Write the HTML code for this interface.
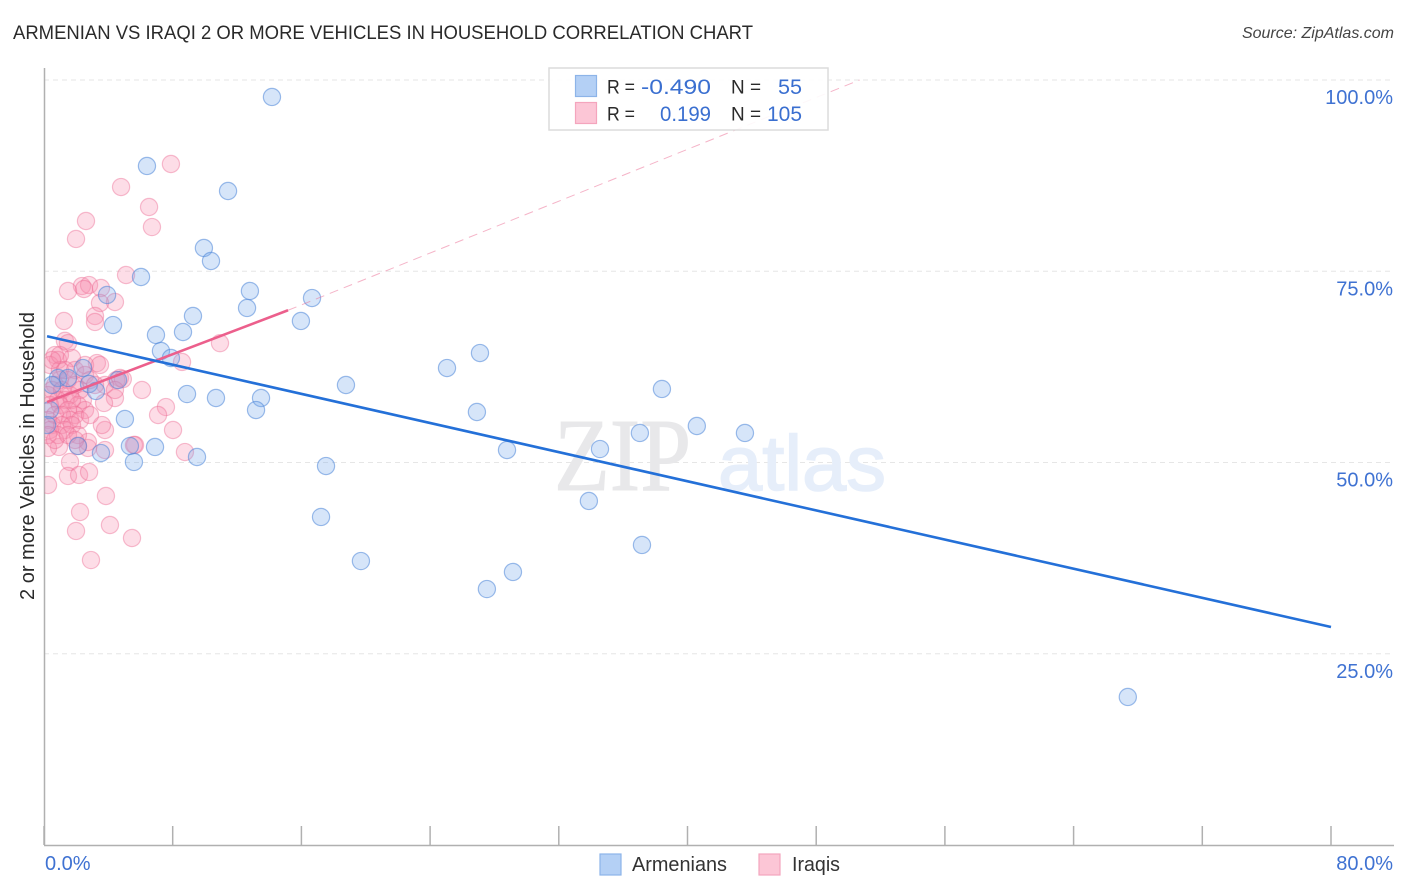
<!DOCTYPE html>
<html lang="en">
<head>
<meta charset="utf-8">
<title>Armenian vs Iraqi 2 or more Vehicles in Household Correlation Chart</title>
<style>
html,body{margin:0;padding:0;background:#fff;}
body{width:1406px;height:892px;overflow:hidden;}
svg{display:block;font-family:"Liberation Sans",sans-serif;}
</style>
</head>
<body>
<svg id="chart" width="1406" height="892" viewBox="0 0 1406 892" xmlns="http://www.w3.org/2000/svg">
  <defs>
    <clipPath id="plot-clip"><rect x="44.5" y="68" width="1350" height="777"/></clipPath>
  </defs>
  <rect width="1406" height="892" fill="#fff"/>
  <text x="13" y="39" font-size="19.6" fill="#2a2a2a" textLength="740" lengthAdjust="spacingAndGlyphs">ARMENIAN VS IRAQI 2 OR MORE VEHICLES IN HOUSEHOLD CORRELATION CHART</text>
  <text x="1394" y="38" font-size="16" font-style="italic" fill="#444" text-anchor="end">Source: ZipAtlas.com</text>

  <g id="grid"></g>
  <g>
    <text x="554" y="490" font-family="Liberation Serif, serif" font-size="104" fill="#e8e8ea" stroke="#e8e8ea" stroke-width="1" textLength="137" lengthAdjust="spacingAndGlyphs">ZIP</text>
    <text x="718" y="490" font-size="78" fill="#e6eefa" stroke="#e6eefa" stroke-width="1.5" textLength="168" lengthAdjust="spacingAndGlyphs">atlas</text>
  </g>
  <g id="axes"></g>
  <g id="marks" clip-path="url(#plot-clip)"></g>
  <g id="trends"></g>
  <g id="labels"></g>

  <text transform="translate(34,456) rotate(-90)" font-size="20" fill="#2a2a2a" text-anchor="middle">2 or more Vehicles in Household</text>

  <g>
    <rect x="549" y="68" width="279" height="62" fill="#fff" fill-opacity="0.9" stroke="#dcdcdc" stroke-width="1.5"/>
    <rect x="575.5" y="75.5" width="21" height="21" fill="#b4d0f5" stroke="#8db4e8" stroke-width="1.2"/>
    <rect x="575.5" y="102.5" width="21" height="21" fill="#fcc6d6" stroke="#f4a5bd" stroke-width="1.2"/>
    <g font-size="19.5" fill="#2a2a2a">
      <text x="607" y="93.5" textLength="28" lengthAdjust="spacingAndGlyphs">R =</text>
      <text x="607" y="120.5" textLength="28" lengthAdjust="spacingAndGlyphs">R =</text>
      <text x="731" y="93.5" textLength="30" lengthAdjust="spacingAndGlyphs">N =</text>
      <text x="731" y="120.5" textLength="30" lengthAdjust="spacingAndGlyphs">N =</text>
    </g>
    <g font-size="21.5" fill="#3a6fd0">
      <text x="641" y="94" textLength="70" lengthAdjust="spacingAndGlyphs">-0.490</text>
      <text x="660" y="121" textLength="51" lengthAdjust="spacingAndGlyphs">0.199</text>
      <text x="778" y="94" textLength="24" lengthAdjust="spacingAndGlyphs">55</text>
      <text x="767" y="121" textLength="35" lengthAdjust="spacingAndGlyphs">105</text>
    </g>
  </g>

  <g>
    <rect x="600" y="854" width="21" height="21" fill="#b4d0f5" stroke="#8db4e8" stroke-width="1.2"/>
    <text x="632" y="871" font-size="20" fill="#333" textLength="95" lengthAdjust="spacingAndGlyphs">Armenians</text>
    <rect x="759" y="854" width="21" height="21" fill="#fcc6d6" stroke="#f4a5bd" stroke-width="1.2"/>
    <text x="792" y="871" font-size="20" fill="#333" textLength="48" lengthAdjust="spacingAndGlyphs">Iraqis</text>
  </g>
</svg>
<script>
var armeniansX = [14.17,6.40,11.44,9.94,10.38,6.03,12.80,16.66,3.92,12.62,9.26,15.97,4.29,6.96,8.64,7.27,7.89,27.10,25.05,18.77,38.41,4.60,2.80,3.23,8.89,10.69,13.49,13.18,26.91,5.03,40.58,37.04,43.57,34.56,28.78,5.34,6.90,2.11,3.54,9.51,5.59,17.53,33.87,17.22,37.17,19.70,29.15,27.53,67.37,0.87,1.49,2.42,0.37,0.19,0.50];
var armeniansY = [97.78,88.76,85.49,78.04,76.34,74.25,72.42,71.50,71.90,70.20,69.15,68.50,67.97,66.67,67.06,64.58,63.66,64.31,62.35,60.13,59.61,60.78,60.26,59.35,58.95,58.43,58.43,56.86,56.60,55.69,54.77,53.86,53.86,51.76,51.63,52.16,52.03,52.16,51.24,50.72,50.07,49.54,44.97,42.88,39.22,37.12,35.69,33.46,19.35,61.05,61.05,62.35,56.86,54.90,60.13];
var iraqisX = [7.89,4.79,6.53,2.61,6.71,1.99,5.10,2.36,2.80,2.49,1.49,3.54,4.41,3.48,3.17,3.17,1.24,1.30,1.49,10.94,8.58,6.09,7.58,7.09,8.02,8.76,5.66,3.29,4.72,4.41,3.73,2.42,3.79,3.60,5.59,3.79,2.73,2.73,2.11,0.93,0.25,1.62,1.49,2.18,2.80,0.25,3.85,2.24,4.10,1.99,5.47,2.92,4.50,4.90,0.68,0.87,1.74,0.37,0.99,1.93,2.55,3.48,2.55,0.99,1.49,1.93,0.68,2.86,3.79,4.41,0.50,1.12,1.62,2.24,0.25,0.87,1.31,2.11,1.74,2.55,0.37,0.99,1.49,1.93,0.68,1.12,1.62,2.24,0.25,0.50,1.12,1.74,1.31,0.37,0.87,2.11,0.25,0.68,1.49,1.93,2.86,3.17,0.99,1.31,0.50];
var iraqisY = [89.02,86.01,83.40,81.57,80.78,79.22,74.51,73.07,73.20,72.68,72.42,72.81,70.98,70.85,69.15,68.37,68.50,65.90,65.60,65.60,63.14,59.48,57.25,56.21,54.25,51.37,52.29,63.00,61.05,58.43,57.78,58.17,54.25,54.90,52.29,51.63,51.90,52.68,52.16,52.03,51.90,50.07,48.24,48.37,48.76,47.06,45.62,43.53,41.83,41.05,40.13,37.25,60.78,60.90,64.05,63.40,63.66,62.75,62.09,62.09,62.75,62.75,61.44,60.78,60.78,60.13,60.13,60.78,60.13,59.48,59.48,59.48,58.82,59.48,58.82,58.17,58.17,57.52,58.17,56.86,57.52,57.52,56.86,56.21,56.21,56.21,55.56,55.56,55.56,54.90,54.90,54.90,54.25,54.25,53.59,53.59,53.59,52.94,53.59,52.94,56.21,60.13,64.05,62.09,63.40];

var armeniansTrendX = [0.19,80];
var armeniansTrendY = [66.5,28.5];
var iraqisTrendX = [0.19,15.17];
var iraqisTrendY = [57.9,69.9];
var iraqisDashX = [15.17,50.7];
var iraqisDashY = [69.9,100];

var xTickValues = [0,8,16,24,32,40,48,56,64,72,80];
var xTickLabels = ["0.0%","80.0%"];
var xTickLabelValues = [0,80];
var yGridValues = [100,75,50,25];
var yTickLabels = ["100.0%","75.0%","50.0%","25.0%"];

var SVG_NS = 'http://www.w3.org/2000/svg';
function xScale(v){ return 44 + v * (1331 - 44) / 80; }
function yScale(v){ return 845 - v * (845 - 80) / 100; }
function make(tag, attrs, parent){
  var el = document.createElementNS(SVG_NS, tag);
  for (var k in attrs) el.setAttribute(k, attrs[k]);
  parent.appendChild(el);
  return el;
}
var grid = document.getElementById('grid');
var axes = document.getElementById('axes');
var marks = document.getElementById('marks');
var trends = document.getElementById('trends');
var labels = document.getElementById('labels');

yGridValues.forEach(function(v, i){
  var line = make('line', {x1:44, x2:1394, y1:yScale(v), y2:yScale(v), stroke:'#e6e6e6', 'stroke-width':1, 'stroke-dasharray':'5 4'}, grid);
  
  
  var t = make('text', {x:1393, y:yScale(v)+24, 'font-size':20, fill:'#3f72d2', 'text-anchor':'end'}, labels);
  t.textContent = yTickLabels[i];
  
  
});

var yAxis = make('line', {x1:44.5, x2:44.5, y1:68, y2:845, stroke:'#b0b0b0', 'stroke-width':1.5}, axes);


var xAxis = make('line', {x1:44, x2:1394, y1:845.5, y2:845.5, stroke:'#b0b0b0', 'stroke-width':1.5}, axes);


xTickValues.forEach(function(v){
  var tick = make('line', {x1:xScale(v), x2:xScale(v), y1:826, y2:845, stroke:'#b0b0b0', 'stroke-width':1.5}, axes);
  
  
});
xTickLabelValues.forEach(function(v, i){
  var attrs = v === 0 ? {x:xScale(v)+1, 'text-anchor':'start'} : {x:1393, 'text-anchor':'end'};
  attrs.y = 870;
  attrs['font-size'] = 20;
  attrs.fill = '#3f72d2';
  var t = make('text', attrs, labels);
  t.textContent = xTickLabels[i];
  
  
});

iraqisX.forEach(function(v, i){
  var c = make('circle', {cx:xScale(v), cy:yScale(iraqisY[i]), r:8.6, fill:'#f78fae', 'fill-opacity':0.3, stroke:'#ec6a92', 'stroke-opacity':0.42, 'stroke-width':1.2}, marks);
  
  
});
armeniansX.forEach(function(v, i){
  var c = make('circle', {cx:xScale(v), cy:yScale(armeniansY[i]), r:8.6, fill:'#78a9ea', 'fill-opacity':0.3, stroke:'#4f86d8', 'stroke-opacity':0.55, 'stroke-width':1.2}, marks);
  
  
});

var dash = make('line', {x1:xScale(iraqisDashX[0]), y1:yScale(iraqisDashY[0]), x2:xScale(iraqisDashX[1]), y2:yScale(iraqisDashY[1]), stroke:'#ec6a92', 'stroke-width':1, 'stroke-opacity':0.5, 'stroke-dasharray':'9 6'}, trends);


var pinkLine = make('line', {x1:xScale(iraqisTrendX[0]), y1:yScale(iraqisTrendY[0]), x2:xScale(iraqisTrendX[1]), y2:yScale(iraqisTrendY[1]), stroke:'#ec5f8c', 'stroke-width':2.6}, trends);


var blueLine = make('line', {x1:xScale(armeniansTrendX[0]), y1:yScale(armeniansTrendY[0]), x2:xScale(armeniansTrendX[1]), y2:yScale(armeniansTrendY[1]), stroke:'#2470d8', 'stroke-width':2.6}, trends);


</script>
</body>
</html>
